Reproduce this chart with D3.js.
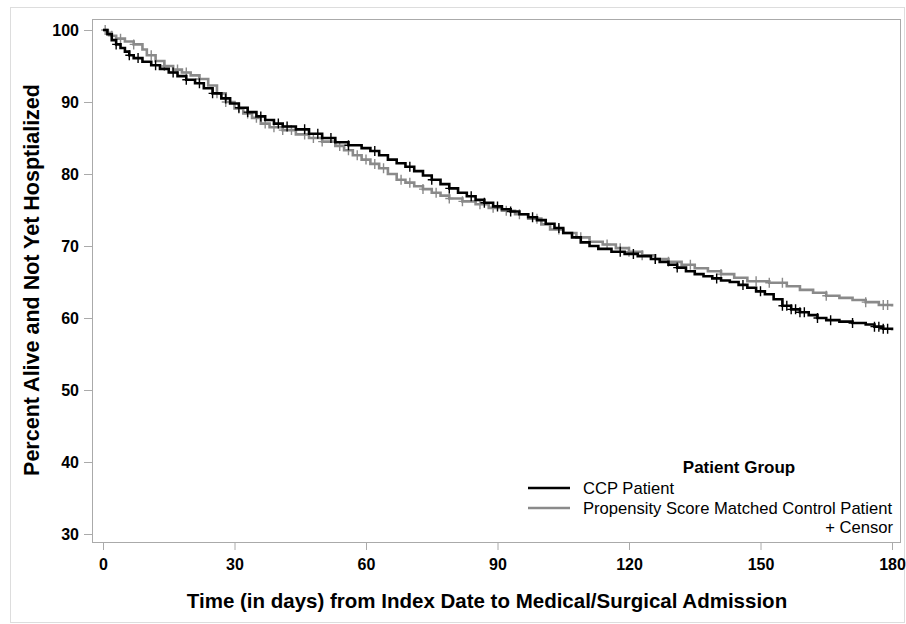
<!DOCTYPE html>
<html>
<head>
<meta charset="utf-8">
<script src="https://cdn.jsdelivr.net/npm/d3@7"></script>
<style>
  body { margin: 0; background: #fff; }
  svg text { font-family: "Liberation Sans", Arial, sans-serif; }
</style>
</head>
<body>
<div id="chart"></div>
<script>
// Kaplan-Meier steps: [day, percent]
var ccpSteps = [
  [0,100],[1,99.4],[2,98.6],[3,98.0],[4,97.5],[5,97.0],[6,96.5],[7,96.1],[9,95.6],[11,95.1],
  [13,94.6],[15,94.1],[17,93.6],[19,93.1],[21,92.6],[23,91.9],[25,91.2],[27,90.5],[29,89.8],[31,89.2],
  [33,88.6],[35,88.0],[37,87.5],[39,87.0],[41,86.6],[44,86.2],[47,85.6],[50,85.0],[53,84.4],[56,84.0],
  [59,83.6],[61,83.2],[63,82.6],[65,82.0],[67,81.5],[69,81.0],[71,80.4],[73,79.8],[75,79.2],[77,78.6],
  [79,78.0],[81,77.4],[83,76.9],[85,76.4],[87,76.0],[89,75.5],[91,75.1],[93,74.8],[95,74.4],[97,74.0],
  [99,73.6],[101,73.1],[103,72.5],[105,71.8],[107,71.2],[109,70.5],[111,70.0],[113,69.6],[116,69.2],[119,68.9],
  [122,68.6],[125,68.2],[127,67.8],[129,67.4],[131,67.0],[133,66.5],[135,66.1],[137,65.8],[139,65.5],[141,65.2],
  [143,65.0],[145,64.6],[147,64.2],[149,63.7],[151,63.3],[153,62.6],[155,61.7],[157,61.2],[159,60.8],[161,60.4],
  [163,60.0],[165,59.7],[168,59.5],[171,59.3],[174,59.1],[176,58.8],[178,58.5],[180,58.3]
];
var ctlSteps = [
  [0,100],[1,99.6],[2,99.2],[3,98.8],[5,98.4],[7,98.0],[9,97.3],[10,96.5],[12,95.7],[14,95.0],
  [16,94.5],[18,94.1],[20,93.7],[22,93.2],[24,92.3],[26,91.2],[28,90.0],[30,89.1],[32,88.4],[34,87.8],
  [36,87.0],[38,86.5],[41,86.1],[44,85.5],[47,85.0],[50,84.5],[53,83.9],[55,83.3],[57,82.6],[59,82.0],
  [61,81.4],[63,80.8],[65,80.0],[67,79.2],[69,78.8],[71,78.3],[73,77.9],[75,77.4],[77,77.0],[79,76.6],
  [82,76.2],[85,75.8],[88,75.3],[91,74.9],[94,74.4],[97,73.8],[100,73.0],[102,72.3],[105,71.8],[108,71.2],
  [111,70.6],[114,70.2],[117,69.7],[120,69.2],[123,68.7],[126,68.2],[129,67.8],[132,67.4],[135,66.9],[138,66.5],
  [141,66.1],[144,65.6],[147,65.1],[152,64.9],[156,64.4],[159,63.9],[162,63.5],[165,63.1],[168,62.8],[171,62.5],
  [174,62.2],[177,61.8],[180,61.6]
];
// censor days
var ccpCensor = [3,6,8,12,16,19,22,25,28,31,33,36,40,42,46,49,52,56,62,70,75,79,84,87,90,93,98,104,
  118,121,126,131,140,146,150,155,156,157,158,159,160,163,166,171,176,177,178,179];
var ctlCensor = [0.5,2,4,7,11,14,17,19,22,26,28,31,33,35,37,39,41,43,46,48,50,54,56,58,60,62,64,68,70,73,
  76,79,82,86,89,92,95,99,104,109,115,118,120,123,126,129,134,141,149,152,155,165,174,178,179];

var xTicks = [0,30,60,90,120,150,180];
var yTicks = [30,40,50,60,70,80,90,100];

var groups = [
  {name: "CCP Patient", steps: ccpSteps, censor: ccpCensor, color: "#000000"},
  {name: "Propensity Score Matched Control Patient", steps: ctlSteps, censor: ctlCensor, color: "#8a8a8a"}
];

var width = 906, height = 624;
var frame = {left: 92, right: 900, top: 19, bottom: 542};

var svg = d3.select("#chart").append("svg")
    .attr("width", width)
    .attr("height", height);

// outer border
svg.append("rect")
    .attr("x", 10.5).attr("y", 7.5)
    .attr("width", 894).attr("height", 615)
    .attr("fill", "none")
    .attr("stroke", "#dddddd");

var x = d3.scaleLinear().domain([0,180]).range([103, 892]);
var y = d3.scaleLinear().domain([30,100]).range([534, 30]);

// plot frame
svg.append("rect")
    .attr("x", frame.left + 0.5).attr("y", frame.top + 0.5)
    .attr("width", frame.right - frame.left).attr("height", frame.bottom - frame.top)
    .attr("fill", "none")
    .attr("stroke", "#aaaaaa");

var xAxis = svg.append("g")
    .attr("transform", "translate(0," + frame.bottom + ")")
    .call(d3.axisBottom(x).tickValues(xTicks).tickSize(8).tickPadding(9));
var yAxis = svg.append("g")
    .attr("transform", "translate(" + frame.left + ",0)")
    .call(d3.axisLeft(y).tickValues(yTicks).tickSize(8).tickPadding(5));

[xAxis, yAxis].forEach(function(a) {
    a.select(".domain").remove();
    a.selectAll(".tick line").attr("stroke", "#aaaaaa");
    a.selectAll(".tick text")
        .attr("fill", "#000")
        .style("font-size", "16px")
        .style("font-weight", "bold");
});

// step curves
var line = d3.line()
    .x(function(d) { return x(d[0]); })
    .y(function(d) { return y(d[1]); })
    .curve(d3.curveStepAfter);

function valueAt(steps, t) {
    var v = steps[0][1];
    for (var i = 0; i < steps.length; i++) {
        if (steps[i][0] <= t) v = steps[i][1];
    }
    return v;
}

groups.slice().reverse().forEach(function(g) {
    svg.append("path")
        .datum(g.steps)
        .attr("d", line)
        .attr("fill", "none")
        .attr("stroke", g.color)
        .attr("stroke-width", 2.6);

    var marks = svg.append("g");
    g.censor.forEach(function(t) {
        var cx = x(t), cy = y(valueAt(g.steps, t));
        marks.append("path")
            .attr("d", "M" + (cx - 4) + "," + cy + "H" + (cx + 4) + "M" + cx + "," + (cy - 5) + "V" + (cy + 5))
            .attr("stroke", g.color)
            .attr("stroke-width", 1.4)
            .attr("fill", "none");
    });
});

// axis titles
svg.append("text")
    .attr("x", 487).attr("y", 608)
    .attr("text-anchor", "middle")
    .style("font-size", "20.5px").style("font-weight", "bold")
    .text("Time (in days) from Index Date to Medical/Surgical Admission");

svg.append("text")
    .attr("transform", "translate(39,280) rotate(-90)")
    .attr("text-anchor", "middle")
    .style("font-size", "21.5px").style("font-weight", "bold")
    .text("Percent Alive and Not Yet Hosptialized");

// legend
var leg = svg.append("g");
leg.append("text")
    .attr("x", 739).attr("y", 473)
    .attr("text-anchor", "middle")
    .style("font-size", "17px").style("font-weight", "bold")
    .text("Patient Group");

groups.forEach(function(g, i) {
    var ly = 488 + i * 20;
    leg.append("line")
        .attr("x1", 528).attr("x2", 570)
        .attr("y1", ly).attr("y2", ly)
        .attr("stroke", g.color)
        .attr("stroke-width", 2.6);
    leg.append("text")
        .attr("x", 583).attr("y", ly + 6)
        .style("font-size", "16.6px")
        .text(g.name);
});
leg.append("text")
    .attr("x", 893).attr("y", 533)
    .attr("text-anchor", "end")
    .style("font-size", "16.6px")
    .text("+ Censor");
</script>
</body>
</html>
